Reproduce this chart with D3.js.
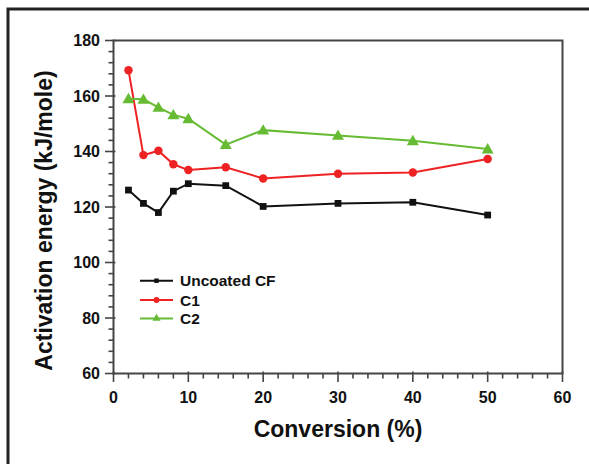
<!DOCTYPE html>
<html><head><meta charset="utf-8">
<script src="https://cdn.jsdelivr.net/npm/d3@7"></script>
<style>body{margin:0;background:#fff}svg{display:block}text{font-family:"Liberation Sans",Arial,sans-serif;font-weight:bold;fill:#111}</style>
</head><body>
<script>
const conversion = [2, 4, 6, 8, 10, 15, 20, 30, 40, 50];
const uncoatedCF = [126.1, 121.3, 118.0, 125.7, 128.4, 127.7, 120.2, 121.3, 121.7, 117.1];
const c1 = [169.3, 138.7, 140.3, 135.4, 133.3, 134.3, 130.3, 132.0, 132.4, 137.3];
const c2 = [159.0, 158.8, 155.9, 153.2, 151.8, 142.5, 147.7, 145.8, 143.9, 140.9];
const seriesNames = ["Uncoated CF", "C1", "C2"];
const xTicks = [0, 10, 20, 30, 40, 50, 60];
const yTicks = [60, 80, 100, 120, 140, 160, 180];

const W = 589, H = 464;
const svg = d3.select("body").append("svg").attr("width", W).attr("height", H);

// outer frame (left + top)
svg.append("path").attr("d", `M8,${H}V9H${W}`).attr("fill","none").attr("stroke","#222").attr("stroke-width",3);

const x = d3.scaleLinear().domain([0, 60]).range([113.5, 562.5]);
const y = d3.scaleLinear().domain([60, 180]).range([373.5, 40.5]);

const axisColor = "#444";
// plot frame
svg.append("rect").attr("x", x(0)).attr("y", y(180)).attr("width", x(60)-x(0)).attr("height", y(60)-y(180))
  .attr("fill","none").attr("stroke", axisColor).attr("stroke-width", 2);

// minor ticks
const xMinor = d3.range(0, 61, 2).filter(v => v % 10 !== 0);
const yMinor = d3.range(60, 181, 4).filter(v => v % 20 !== 0);
const g = svg.append("g").attr("stroke", axisColor).attr("stroke-width", 1.6);
g.selectAll(".xm").data(xMinor).join("line").attr("x1", d=>x(d)).attr("x2", d=>x(d)).attr("y1", y(60)).attr("y2", y(60)+5);
g.selectAll(".ym").data(yMinor).join("line").attr("y1", d=>y(d)).attr("y2", d=>y(d)).attr("x1", x(0)).attr("x2", x(0)-5);
g.selectAll(".xM").data(xTicks).join("line").attr("x1", d=>x(d)).attr("x2", d=>x(d)).attr("y1", y(60)-2).attr("y2", y(60)+8.5);
g.selectAll(".yM").data(yTicks).join("line").attr("y1", d=>y(d)).attr("y2", d=>y(d)).attr("x1", x(0)+2).attr("x2", x(0)-8.5);

// tick labels
svg.selectAll(".xl").data(xTicks).join("text").attr("x", d=>x(d)).attr("y", 403).attr("text-anchor","middle")
  .attr("font-size", 16).text(d=>d);
svg.selectAll(".yl").data(yTicks).join("text").attr("x", 100).attr("y", d=>y(d)+5.8).attr("text-anchor","end")
  .attr("font-size", 16).text(d=>d);

// titles
svg.append("text").attr("x", (x(0)+x(60))/2).attr("y", 437).attr("text-anchor","middle").attr("font-size", 23).text("Conversion (%)");
svg.append("text").attr("transform", "translate(52,220.5) rotate(-90)").attr("text-anchor","middle").attr("font-size", 23).text("Activation energy (kJ/mole)");

const colors = ["#111111", "#ee2222", "#66bb33"];
const data = [uncoatedCF, c1, c2];
const symbols = [d3.symbolSquare, d3.symbolCircle, d3.symbolTriangle];
const sizes = [46, 56, 62];
const line = d3.line().x((d,i)=>x(conversion[i])).y(d=>y(d));

data.forEach((vals, si) => {
  svg.append("path").datum(vals).attr("d", line).attr("fill","none").attr("stroke", colors[si]).attr("stroke-width", 2);
  svg.selectAll(".m"+si).data(vals).join("path")
    .attr("transform", (d,i)=>`translate(${x(conversion[i])},${y(d) + (si===2?1:0)})`)
    .attr("d", d3.symbol().type(symbols[si]).size(sizes[si])).attr("fill", colors[si]);
});

// legend
const legY = [280.7, 300, 318.5];
seriesNames.forEach((name, si) => {
  svg.append("line").attr("x1", 140).attr("x2", 173).attr("y1", legY[si]).attr("y2", legY[si]).attr("stroke", colors[si]).attr("stroke-width", 2);
  svg.append("path").attr("transform", `translate(156.5,${legY[si]})`).attr("d", d3.symbol().type(symbols[si]).size([20,26,28][si])).attr("fill", colors[si]);
  svg.append("text").attr("x", 180).attr("y", legY[si]+5.5).attr("font-size", 15.5).text(name);
});
</script>
</body></html>
